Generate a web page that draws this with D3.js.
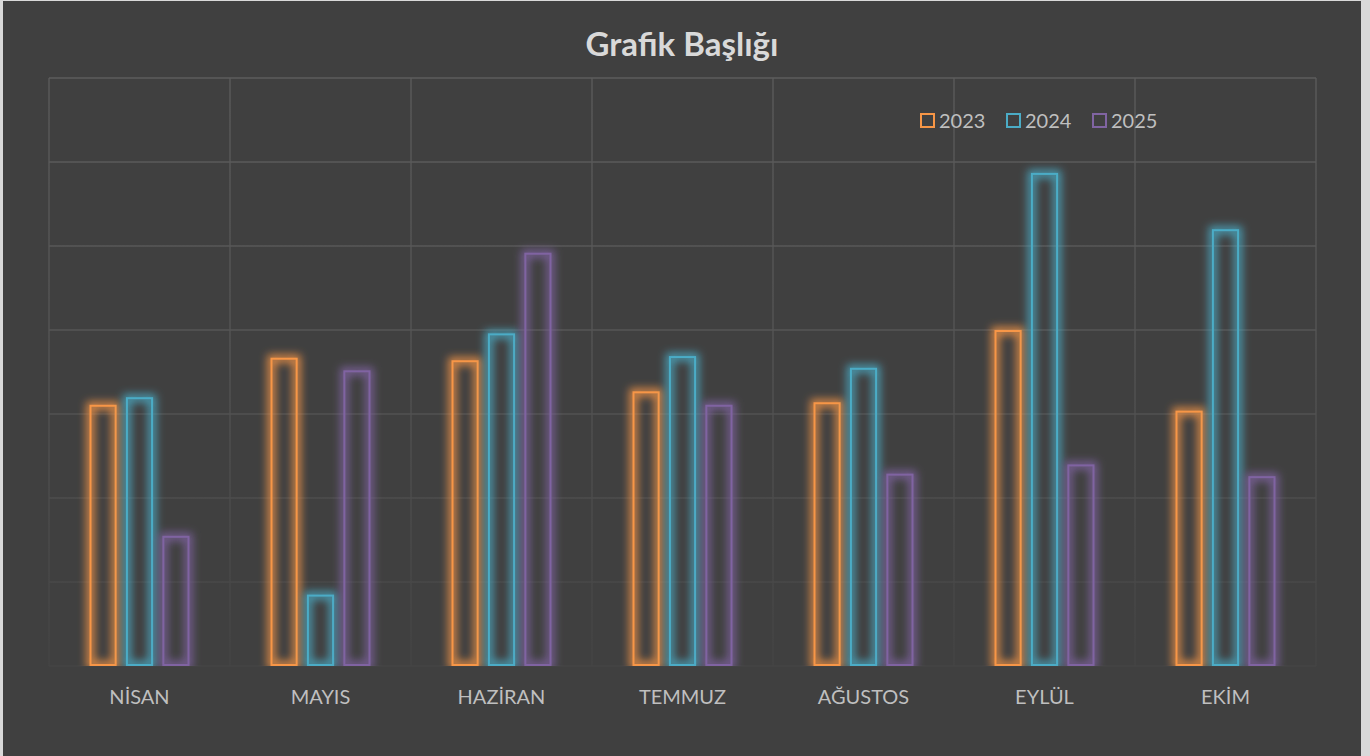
<!DOCTYPE html>
<html>
<head>
<meta charset="utf-8">
<script src="https://cdn.jsdelivr.net/npm/d3@7"></script>
<style>
  html, body { margin: 0; padding: 0; background: #d9d9d9; }
  svg { display: block; }
</style>
</head>
<body>
<div id="chart"></div>
<script>
var svgWidth = 1370;
var svgHeight = 756;

// data
var months = ["NİSAN", "MAYIS", "HAZİRAN", "TEMMUZ", "AĞUSTOS", "EYLÜL", "EKİM"];
var years = ["2023", "2024", "2025"];
var values2023 = [311, 367, 364, 327, 314, 400, 304];
var values2024 = [320, 85, 396, 369, 355, 587, 520];
var values2025 = [155, 352, 492, 311, 229, 240, 226];
var yTicks = [0, 100, 200, 300, 400, 500, 600, 700];
var colors = ["#F79646", "#4BACC6", "#8064A2"];

var margin = { top: 78, right: 54, bottom: 90, left: 49 };
var plotW = svgWidth - margin.left - margin.right;
var plotH = svgHeight - margin.top - margin.bottom;

var seriesValues = [values2023, values2024, values2025];
var rows = [];
months.forEach(function(m, i) {
  years.forEach(function(y, j) {
    rows.push({ month: m, year: y, value: seriesValues[j][i], color: colors[j] });
  });
});

var svg = d3.select("#chart")
  .append("svg")
  .attr("width", svgWidth)
  .attr("height", svgHeight);

var defs = svg.append("defs");

// fading gridlines
var grad = defs.append("linearGradient")
  .attr("id", "gridFade")
  .attr("gradientUnits", "userSpaceOnUse")
  .attr("x1", 0).attr("x2", 0)
  .attr("y1", margin.top).attr("y2", margin.top + plotH);
grad.append("stop").attr("offset", "0%").attr("stop-color", "#5c5c5c");
grad.append("stop").attr("offset", "45%").attr("stop-color", "#555555");
grad.append("stop").attr("offset", "100%").attr("stop-color", "#444444");

// glow filter: widen the outline, blur it, put the crisp outline on top
var glow = defs.append("filter")
  .attr("id", "glow")
  .attr("x", "-60%").attr("y", "-20%")
  .attr("width", "220%").attr("height", "140%");
glow.append("feMorphology")
  .attr("in", "SourceGraphic")
  .attr("operator", "dilate")
  .attr("radius", 2.5)
  .attr("result", "wide");
glow.append("feGaussianBlur")
  .attr("in", "wide")
  .attr("stdDeviation", 4)
  .attr("result", "blur");
glow.append("feComponentTransfer")
  .attr("in", "blur")
  .attr("result", "soft")
  .append("feFuncA").attr("type", "linear").attr("slope", 0.85);
var merge = glow.append("feMerge");
merge.append("feMergeNode").attr("in", "soft");
merge.append("feMergeNode").attr("in", "SourceGraphic");

defs.append("clipPath")
  .attr("id", "plotClip")
  .append("rect")
  .attr("x", margin.left - 20)
  .attr("y", 0)
  .attr("width", plotW + 40)
  .attr("height", margin.top + plotH);

// chart background
svg.append("rect")
  .attr("x", 3)
  .attr("y", 1)
  .attr("width", 1358)
  .attr("height", svgHeight - 1)
  .attr("fill", "#404040");

var x0 = d3.scaleBand()
  .domain(months)
  .range([margin.left, margin.left + plotW])
  .padding(0);

var groupW = 100;
var x1 = d3.scaleBand()
  .domain(years)
  .range([0, groupW])
  .paddingInner(0.255);

var yScale = d3.scaleLinear()
  .domain([0, 700])
  .range([margin.top + plotH, margin.top]);

// horizontal gridlines
svg.append("g")
  .selectAll("line")
  .data(yTicks)
  .enter()
  .append("line")
  .attr("x1", margin.left)
  .attr("x2", margin.left + plotW)
  .attr("y1", d => yScale(d))
  .attr("y2", d => yScale(d))
  .attr("stroke", "url(#gridFade)")
  .attr("stroke-width", 1.3);

// vertical gridlines at category borders
var borders = months.map(m => x0(m)).concat([margin.left + plotW]);
svg.append("g")
  .selectAll("line")
  .data(borders)
  .enter()
  .append("line")
  .attr("x1", d => d)
  .attr("x2", d => d)
  .attr("y1", margin.top)
  .attr("y2", margin.top + plotH)
  .attr("stroke", "url(#gridFade)")
  .attr("stroke-width", 1.3);

// bars
var offset = (x0.bandwidth() - groupW) / 2;
svg.append("g")
  .attr("clip-path", "url(#plotClip)")
  .selectAll("rect")
  .data(rows)
  .enter()
  .append("rect")
  .attr("x", d => x0(d.month) + offset + x1(d.year) + 1)
  .attr("y", d => yScale(d.value) + 1)
  .attr("width", x1.bandwidth() - 2)
  .attr("height", d => yScale(0) - yScale(d.value) - 2)
  .attr("fill", "none")
  .attr("stroke", d => d.color)
  .attr("stroke-width", 2)
  .attr("filter", "url(#glow)");

// category labels
svg.append("g")
  .selectAll("text")
  .data(months)
  .enter()
  .append("text")
  .attr("x", d => x0(d) + x0.bandwidth() / 2)
  .attr("y", 704)
  .attr("text-anchor", "middle")
  .style("font-family", "Lato, 'Open Sans', sans-serif")
  .style("font-size", "20px")
  .attr("fill", "#bfbfbf")
  .text(d => d);

// title
svg.append("text")
  .attr("x", 682)
  .attr("y", 56)
  .attr("text-anchor", "middle")
  .style("font-family", "Lato, 'Open Sans', sans-serif")
  .style("font-size", "33px")
  .style("font-weight", "bold")
  .attr("fill", "#d9d9d9")
  .text("Grafik Başlığı");

// legend
var legendX = [921, 1007, 1093];
var legend = svg.append("g")
  .selectAll("g")
  .data(years)
  .enter()
  .append("g")
  .attr("transform", (d, i) => `translate(${legendX[i]}, 114)`);

legend.append("rect")
  .attr("x", 0)
  .attr("y", 0)
  .attr("width", 13)
  .attr("height", 13)
  .attr("fill", "none")
  .attr("stroke", (d, i) => colors[i])
  .attr("stroke-width", 2);

legend.append("text")
  .attr("x", 18)
  .attr("y", 14)
  .style("font-family", "Lato, 'Open Sans', sans-serif")
  .style("font-size", "20px")
  .attr("fill", "#bfbfbf")
  .text(d => d);
</script>
</body>
</html>
